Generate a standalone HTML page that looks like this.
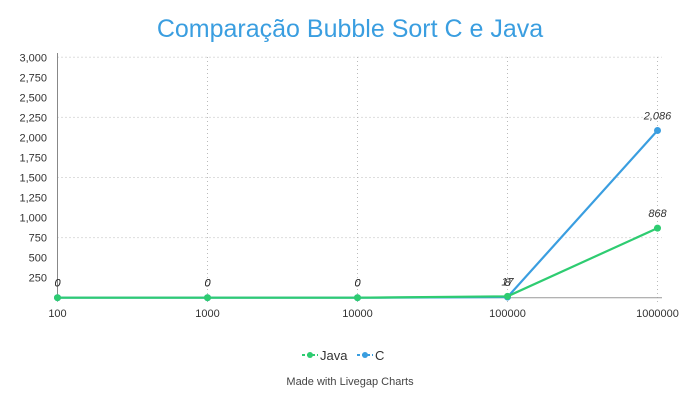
<!DOCTYPE html>
<html><head><meta charset="utf-8"><style>
body{margin:0;background:#fff;font-family:"Liberation Sans","DejaVu Sans",sans-serif}
svg text{font-family:"Liberation Sans","DejaVu Sans",sans-serif}
</style></head><body>
<svg id="c" width="700" height="400">
<text x="350" y="37" text-anchor="middle" font-size="25" fill="#3a9ee0">Comparação Bubble Sort C e Java</text>
<g id="grid"></g><g id="axes"></g><g id="series"></g>
<g>
<g>
<line x1="302" y1="355" x2="318" y2="355" stroke="#2ecc71" stroke-width="2" stroke-dasharray="3,2"/><circle cx="310" cy="355" r="3" fill="#2ecc71"/>
<text x="320" y="360" font-size="13" fill="#333">Java</text></g>
<g>
<line x1="357" y1="355" x2="373" y2="355" stroke="#3a9ee0" stroke-width="2" stroke-dasharray="3,2"/><circle cx="365" cy="355" r="3" fill="#3a9ee0"/>
<text x="375" y="360" font-size="13" fill="#333">C</text></g>
</g>
<text x="350" y="385" text-anchor="middle" font-size="11" fill="#444">Made with Livegap Charts</text>
</svg>
<script>
const categories=["100","1000","10000","100000","1000000"];
const javaValues=[0,0,0,17,868];
const cValues=[0,0,0,8,2086];
const yTicks=[250,500,750,1000,1250,1500,1750,2000,2250,2500,2750,3000];
const gridTicks=[750,1500,2250,3000];
const NS="http://www.w3.org/2000/svg";
const x0=57.5,dx=150,y0=297.7,k=220.4/2750;
const xs=i=>x0+i*dx, ys=v=>y0-v*k;
function mk(t,a,p){const e=document.createElementNS(NS,t);for(const n in a)e.setAttribute(n,a[n]);p.appendChild(e);return e;}
const grid=document.getElementById('grid'),axes=document.getElementById('axes'),ser=document.getElementById('series');
gridTicks.forEach(v=>{const l=mk('line',{x1:x0,x2:662,y1:ys(v),y2:ys(v),stroke:'#bbb','stroke-dasharray':'1,3'},grid);

});
categories.forEach((c,i)=>{const l=mk('line',{x1:xs(i),x2:xs(i),y1:57,y2:y0+5,stroke:'#bbb','stroke-dasharray':'1,3'},grid);


const t=mk('text',{x:xs(i),y:317,'text-anchor':'middle','font-size':11,fill:'#333'},axes);t.textContent=c;

});
yTicks.forEach(v=>{const t=mk('text',{x:47,y:ys(v)+4,'text-anchor':'end','font-size':11,fill:'#333'},axes);t.textContent=v.toLocaleString('en-US');

});
const ya=mk('line',{x1:x0,x2:x0,y1:53,y2:y0,stroke:'#888'},axes);


const xa=mk('line',{x1:x0,x2:662,y1:y0,y2:y0,stroke:'#999'},axes);


function draw(vals,col,name){const g=mk('g',{},ser);


const p=mk('polyline',{points:vals.map((v,i)=>xs(i)+','+ys(v)).join(' '),fill:'none',stroke:col,'stroke-width':2.2},g);


vals.forEach((v,i)=>{const c=mk('circle',{cx:xs(i),cy:ys(v),r:3.5,fill:col},g);


const t=mk('text',{x:xs(i),y:ys(v)-11,'text-anchor':'middle','font-size':11,'font-style':'italic',fill:'#333'},g);t.textContent=v.toLocaleString('en-US');

});}
draw(cValues,'#3a9ee0','c');
draw(javaValues,'#2ecc71','java');
</script>
</body></html>
